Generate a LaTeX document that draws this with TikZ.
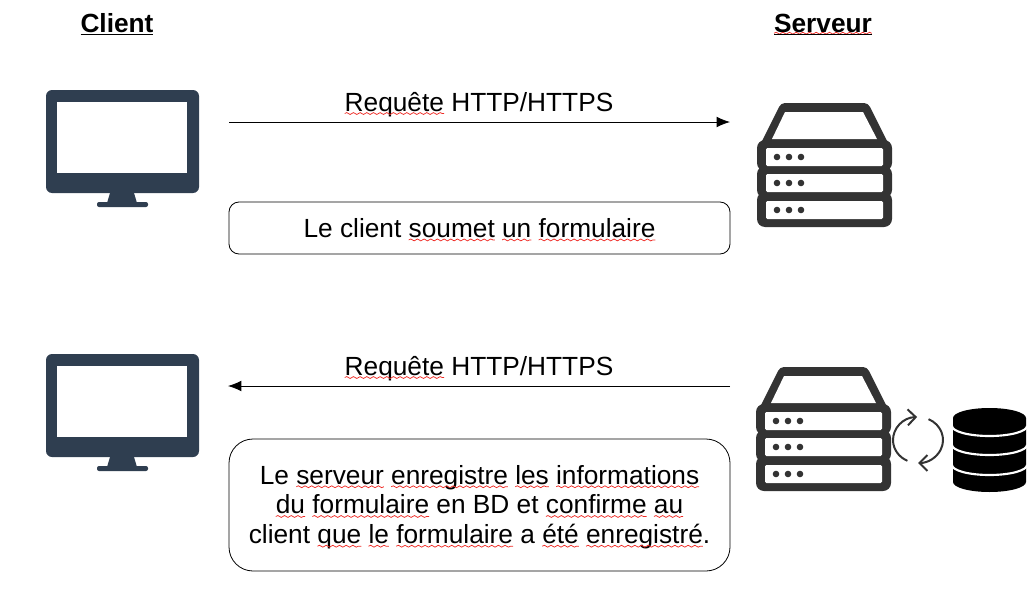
\documentclass[tikz,border=0pt]{standalone}
\usepackage{fontspec}
\setmainfont{Liberation Sans}
\usetikzlibrary{arrows.meta,decorations.pathmorphing}
\definecolor{screenblue}{HTML}{2F3E50}
\definecolor{rackgrey}{HTML}{333333}
\definecolor{squigred}{HTML}{EE2A24}
\def\squigdrop{1.9pt}
\def\sq#1{\tikz[baseline=(w.base)]{\node[inner sep=0pt,outer sep=0pt,minimum width=0pt,minimum height=0pt,draw=none,sharp corners] (w) {#1};
    \draw[overlay,squigred,sharp corners,line width=0.55pt,decorate,decoration={snake,amplitude=0.7pt,segment length=5pt}]
        ([yshift=-\squigdrop]w.base west) -- ([yshift=-\squigdrop]w.base east);}}
\tikzset{
    bodytext/.style={font=\fontsize{19.7}{22.3}\selectfont,inner sep=0pt,align=center},
    titletext/.style={font=\fontsize{19.7}{22.3}\selectfont\bfseries,inner sep=0pt,anchor=base},
    msgbox/.style={bodytext,draw,line width=0.6pt,minimum width=375.75pt},
    msgline/.style={line width=0.6pt,-{Latex[length=10pt,width=8pt]}},
    syncline/.style={rackgrey,line width=1.5pt},
    pics/monitor/.style={code={
        \fill[screenblue,rounded corners=4.5pt] (0,0) rectangle (153,103);
        \fill[white] (11,12) rectangle (141,83);
        \fill[screenblue] (64,103) -- (88,103) -- (91,113) -- (61,113) -- cycle;
        \fill[screenblue,rounded corners=1.5pt] (51,117) rectangle (102,112);
    }},
    pics/rack/.style={code={
        \fill[rackgrey,rounded corners=3pt] (24,0) -- (111,0) -- (133,44) -- (2,44) -- cycle;
        \fill[white] (28,9) -- (106,9) -- (120,36) -- (15,36) -- cycle;
        \foreach \ytop/\ybot in {37/68,63/95,89/124}
            \fill[rackgrey,rounded corners=6pt] (0,\ytop) rectangle (135,\ybot);
        \foreach \yslot in {45,71,98} {
            \fill[white,rounded corners=1pt] (9,\yslot) rectangle (126,\yslot+18);
            \foreach \xdot in {20,32,44}
                \fill[rackgrey] (\xdot,\yslot+9) circle[radius=3.3];
        }
    }},
    pics/dbstack/.style={code={
        \fill[black] (0,10) arc[start angle=180,end angle=360,x radius=36.5,y radius=10]
            -- (73,74) arc[start angle=0,end angle=180,x radius=36.5,y radius=10] -- cycle;
        \foreach \yband in {18,37,57}
            \draw[white,line width=1.6pt] (-1,\yband) arc[start angle=180,end angle=0,x radius=37.5,y radius=10];
    }}
}
\begin{document}
\begin{tikzpicture}[x=0.75pt,y=-0.75pt]
    \useasboundingbox (0,0) rectangle (1033,603);
    \node[titletext] (clienttitle) at (117,32) {\underline{Client}};
    \node[titletext] (servertitle) at (823,32) {\def\squigdrop{0.9pt}\underline{\sq{Serveur}}};

    \pic at (46,90) {monitor};
    \pic at (46,354) {monitor};
    \pic at (757,103) {rack};
    \pic at (756,367) {rack};
    \pic at (953,408) {dbstack};

    \coordinate (reqstart) at (229,122);
    \coordinate (reqend) at (730,122);
    \coordinate (repstart) at (730,386);
    \coordinate (repend) at (228,386);
    \draw[msgline] (reqstart) -- (reqend);
    \draw[msgline] (repstart) -- (repend);
    \node[bodytext,anchor=base] (reqlabel) at (479,111) {\sq{Requête} HTTP/HTTPS};
    \node[bodytext,anchor=base] (replabel) at (479,375) {\sq{Requête} HTTP/HTTPS};

    \node[msgbox,minimum height=39pt,rounded corners=7.5pt] (submitbox) at (479.5,228)
        {Le client \sq{soumet} \sq{un} \sq{formulaire}};
    \node[msgbox,minimum height=99pt,rounded corners=18pt] (savebox) at (479.5,505)
        {\rule{0pt}{17.5pt}Le \sq{serveur} \sq{enregistre} \sq{les} \sq{informations}\\
         \sq{du} \sq{formulaire} en BD et \sq{confirme} \sq{au}\\
         client \sq{que} \sq{le} \sq{formulaire} a \sq{été} \sq{enregistré}.};

    \coordinate (synccentre) at (918,440);
    \draw[syncline,{Straight Barb[length=6pt,width=12pt]}-] (synccentre) ++(-92:25 and 23) arc[start angle=-92,end angle=-245,x radius=25,y radius=23];
    \draw[syncline,-{Straight Barb[length=6pt,width=12pt]}] (synccentre) ++(-65:25 and 23) arc[start angle=-65,end angle=90,x radius=25,y radius=23];
\end{tikzpicture}
\end{document}
